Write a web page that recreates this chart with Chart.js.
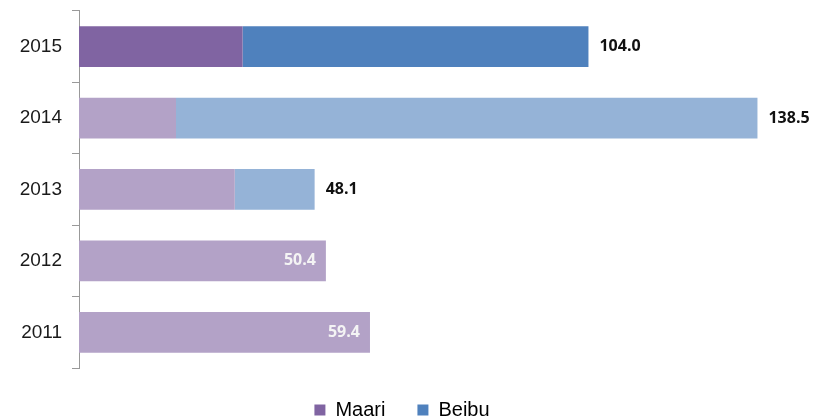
<!DOCTYPE html>
<html lang="en">
<head>
    <meta charset="UTF-8">
    <title>Maari / Beibu</title>
    <style>
        html, body {
            margin: 0;
            padding: 0;
            background-color: #fff;
            overflow: hidden;
        }

        .wrap {
            position: relative;
            width: 814px;
            height: 430px;
        }
    </style>
</head>
<body>
    <div class="wrap">
        <canvas id="barChart"></canvas>
    </div>

    <script src="https://cdn.jsdelivr.net/npm/chart.js"></script>
    <script>
        // values (totals are the printed labels)
        const years = ['2015', '2014', '2013', '2012', '2011'];
        const maari = [33.4, 19.8, 31.8, 50.4, 59.4];
        const beibu = [70.6, 118.7, 16.3, 0, 0];
        const totals = [104.0, 138.5, 48.1, 50.4, 59.4];

        // 2015 is drawn in the strong colours, other years lighter
        const maariColors = ['#8064A2', '#B3A2C7', '#B3A2C7', '#B3A2C7', '#B3A2C7'];
        const beibuColors = ['#4F81BD', '#95B3D7', '#95B3D7', '#95B3D7', '#95B3D7'];

        // Draws the total at the end of every bar
        const totalLabels = {
            id: 'totalLabels',
            afterDatasetsDraw(chart) {
                const ctx = chart.ctx;
                const xScale = chart.scales.x;
                const yScale = chart.scales.y;
                ctx.save();
                ctx.font = 'bold 16px "Open Sans", sans-serif';
                ctx.textBaseline = 'middle';
                totals.forEach((total, i) => {
                    const x = xScale.getPixelForValue(total);
                    const y = yScale.getPixelForValue(i);
                    if (beibu[i] === 0) {
                        ctx.fillStyle = '#f4f4f4';
                        ctx.textAlign = 'right';
                        ctx.fillText(total.toFixed(1), x - 10, y);
                    } else {
                        ctx.fillStyle = '#111';
                        ctx.textAlign = 'left';
                        ctx.fillText(total.toFixed(1), x + 11, y);
                    }
                });
                ctx.restore();
            }
        };

        new Chart(document.getElementById('barChart'), {
            type: 'bar',
            data: {
                labels: years,
                datasets: [{
                    label: 'Maari',
                    data: maari,
                    backgroundColor: maariColors,
                    barPercentage: 0.57,
                    categoryPercentage: 1
                }, {
                    label: 'Beibu',
                    data: beibu,
                    backgroundColor: beibuColors,
                    barPercentage: 0.57,
                    categoryPercentage: 1
                }]
            },
            options: {
                indexAxis: 'y',
                responsive: true,
                maintainAspectRatio: false,
                animation: false,
                layout: { padding: { top: 7, left: 0, right: 10, bottom: 0 } },
                plugins: {
                    tooltip: { enabled: false },
                    legend: {
                        position: 'bottom',
                        labels: {
                            font: { family: 'Liberation Sans, Arial', size: 20 },
                            color: '#111',
                            boxWidth: 11,
                            boxHeight: 11,
                            padding: 32,
                            generateLabels: () => [
                                { text: 'Maari', fillStyle: maariColors[0], strokeStyle: maariColors[0], lineWidth: 0, datasetIndex: 0 },
                                { text: 'Beibu', fillStyle: beibuColors[0], strokeStyle: beibuColors[0], lineWidth: 0, datasetIndex: 1 }
                            ]
                        }
                    }
                },
                scales: {
                    x: {
                        stacked: true,
                        display: false,
                        min: 0,
                        max: 148
                    },
                    y: {
                        stacked: true,
                        afterFit: (scale) => { scale.width = 79; },
                        grid: {
                            offset: true,
                            drawOnChartArea: false,
                            tickLength: 7,
                            color: '#999'
                        },
                        border: { display: true, color: '#999' },
                        ticks: {
                            // tiny lineHeight so the labels add no extra top/bottom padding
                            font: { family: 'Liberation Sans, Arial', size: 19, lineHeight: 0.1 },
                            color: '#1a1a1a',
                            padding: 10
                        }
                    }
                }
            },
            plugins: [totalLabels]
        });
    </script>
</body>
</html>
